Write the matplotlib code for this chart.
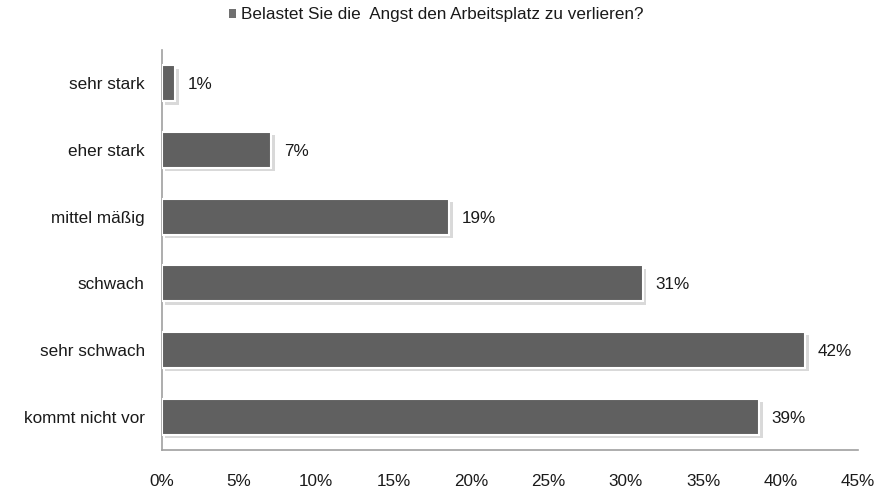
import matplotlib.pyplot as plt
import matplotlib.patheffects as pe
from matplotlib.patches import Patch

plt.rcParams['font.family'] = ['Liberation Sans', 'DejaVu Sans']

# Survey answers, top to bottom
categories = ['sehr stark', 'eher stark', 'mittel mäßig', 'schwach',
              'sehr schwach', 'kommt nicht vor']
values = [0.9, 7.1, 18.6, 31.1, 41.6, 38.6]
ticks = [0, 5, 10, 15, 20, 25, 30, 35, 40, 45]
series_name = 'Belastet Sie die  Angst den Arbeitsplatz zu verlieren?'

bar_color = '#606060'
text_color = '#1a1a1a'
fs = 12.3

fig = plt.figure(figsize=(8.84, 4.91), dpi=100)
ax = fig.add_axes([0.1827, 0.0835, 0.788, 0.8147])

y = list(range(len(categories)))
bars = ax.barh(y, values, height=0.54, color=bar_color, edgecolor='white',
               linewidth=1.5, zorder=3)
for b in bars:
    b.set_path_effects([pe.SimplePatchShadow(offset=(2.5, -2.5), shadow_rgbFace='#c0c0c0',
                                             alpha=0.6),
                        pe.Normal()])

for yi, v in zip(y, values):
    ax.text(v + 0.8, yi, f'{round(v):.0f}%', va='center_baseline', ha='left',
            fontsize=fs, color=text_color)

ax.set_ylim(len(categories) - 0.5, -0.5)
ax.set_xlim(0, 45)
ax.set_yticks(y)
ax.set_yticklabels(categories, fontsize=fs, color=text_color, va='center_baseline')
ax.set_xticks(ticks)
ax.set_xticklabels([f'{t}%' for t in ticks], fontsize=fs, color=text_color)
ax.tick_params(axis='both', length=0)
ax.tick_params(axis='y', pad=12)
ax.tick_params(axis='x', pad=17)

for s in ['top', 'right']:
    ax.spines[s].set_visible(False)
for s in ['left', 'bottom']:
    ax.spines[s].set_color('#a0a0a0')
    ax.spines[s].set_linewidth(1.2)

fig.legend(handles=[Patch(facecolor='#707070', edgecolor='none', label=series_name)],
           loc='center', bbox_to_anchor=(0.493, 0.97), frameon=False,
           handlelength=0.45, handleheight=0.45, handletextpad=0.25,
           fontsize=fs, labelcolor=text_color)

fig.savefig('out.png', dpi=100)
